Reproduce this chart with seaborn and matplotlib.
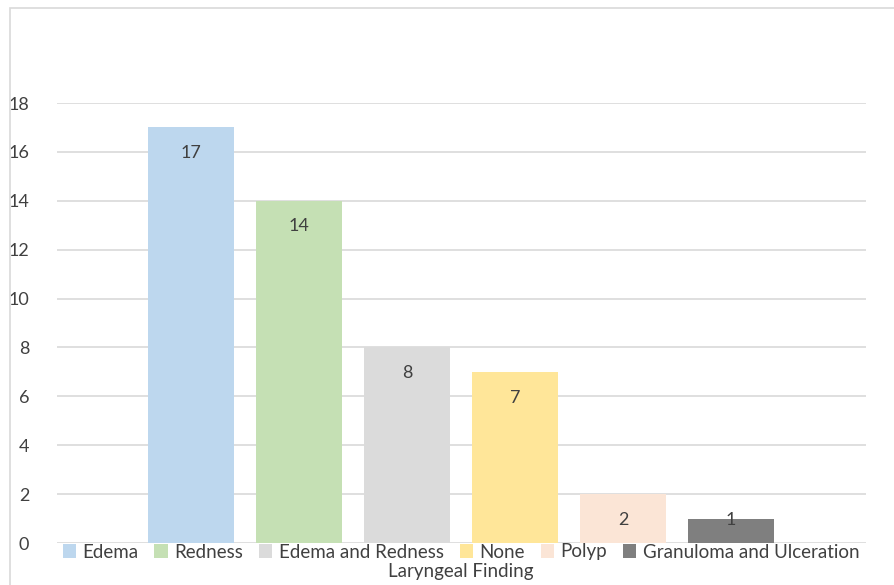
import matplotlib
matplotlib.use("Agg")
import matplotlib.pyplot as plt
import seaborn as sns
import pandas as pd
from matplotlib.patches import Patch, Rectangle

categories = ["Edema", "Redness", "Edema and Redness", "None", "Polyp", "Granuloma and Ulceration"]
values = [17, 14, 8, 7, 2, 1]
colors = ["#BDD7EE", "#C5E0B4", "#DBDBDB", "#FFE699", "#FBE5D6", "#7F7F7F"]
yticks = [0, 2, 4, 6, 8, 10, 12, 14, 16, 18]
xlabel = "Laryngeal Finding"

sns.set_theme(style="white")
plt.rcParams["font.family"] = ["Lato", "DejaVu Sans"]

df = pd.DataFrame({"finding": categories, "count": values})

fig = plt.figure(figsize=(8.94, 5.85), dpi=100)
ax = fig.add_axes([57/894, 1-543/585, (866-57)/894, (543-103)/585])

sns.barplot(data=df, x="finding", y="count", hue="finding", palette=colors,
            width=0.796, legend=False, ax=ax, saturation=1, zorder=3,
            linewidth=0, edgecolor="none")

ax.set_ylim(0, 18)
ax.set_xlim(-1.24, 6.25)
ax.set_yticks(yticks)
ax.set_yticklabels([str(t) for t in yticks], fontsize=13, color="#404040")
ax.tick_params(axis="y", length=0, pad=20)
ax.set_xticks([])
ax.set_xlabel("")
ax.set_ylabel("")
for s in ax.spines.values():
    s.set_visible(False)
ax.yaxis.grid(True, color="#D9D9D9", linewidth=1.2, zorder=0)
ax.set_axisbelow(True)

for i, v in enumerate(values):
    ax.text(i, max(v - 1.05, 0.94), str(v), ha="center", va="center",
            fontsize=13, color="#404040", zorder=5)

handles = [Patch(facecolor=c, edgecolor="none") for c in colors]
fig.legend(handles, categories, loc="center", bbox_to_anchor=(461/894, 1-552/585),
           ncol=6, frameon=False, fontsize=13.5, handlelength=0.7, handleheight=0.7,
           handletextpad=0.35, columnspacing=0.85, labelcolor="#404040",
           borderpad=0, borderaxespad=0)
fig.text(461/894, 1-572/585, xlabel, ha="center", va="center", fontsize=13.5, color="#404040")

fig.patches.append(Rectangle((10/894, -0.1), 1.2, 0.1 + 1-8/585, fill=False,
                             edgecolor="#D9D9D9", linewidth=1.2,
                             transform=fig.transFigure, figure=fig))

fig.savefig("out.png", dpi=100)
